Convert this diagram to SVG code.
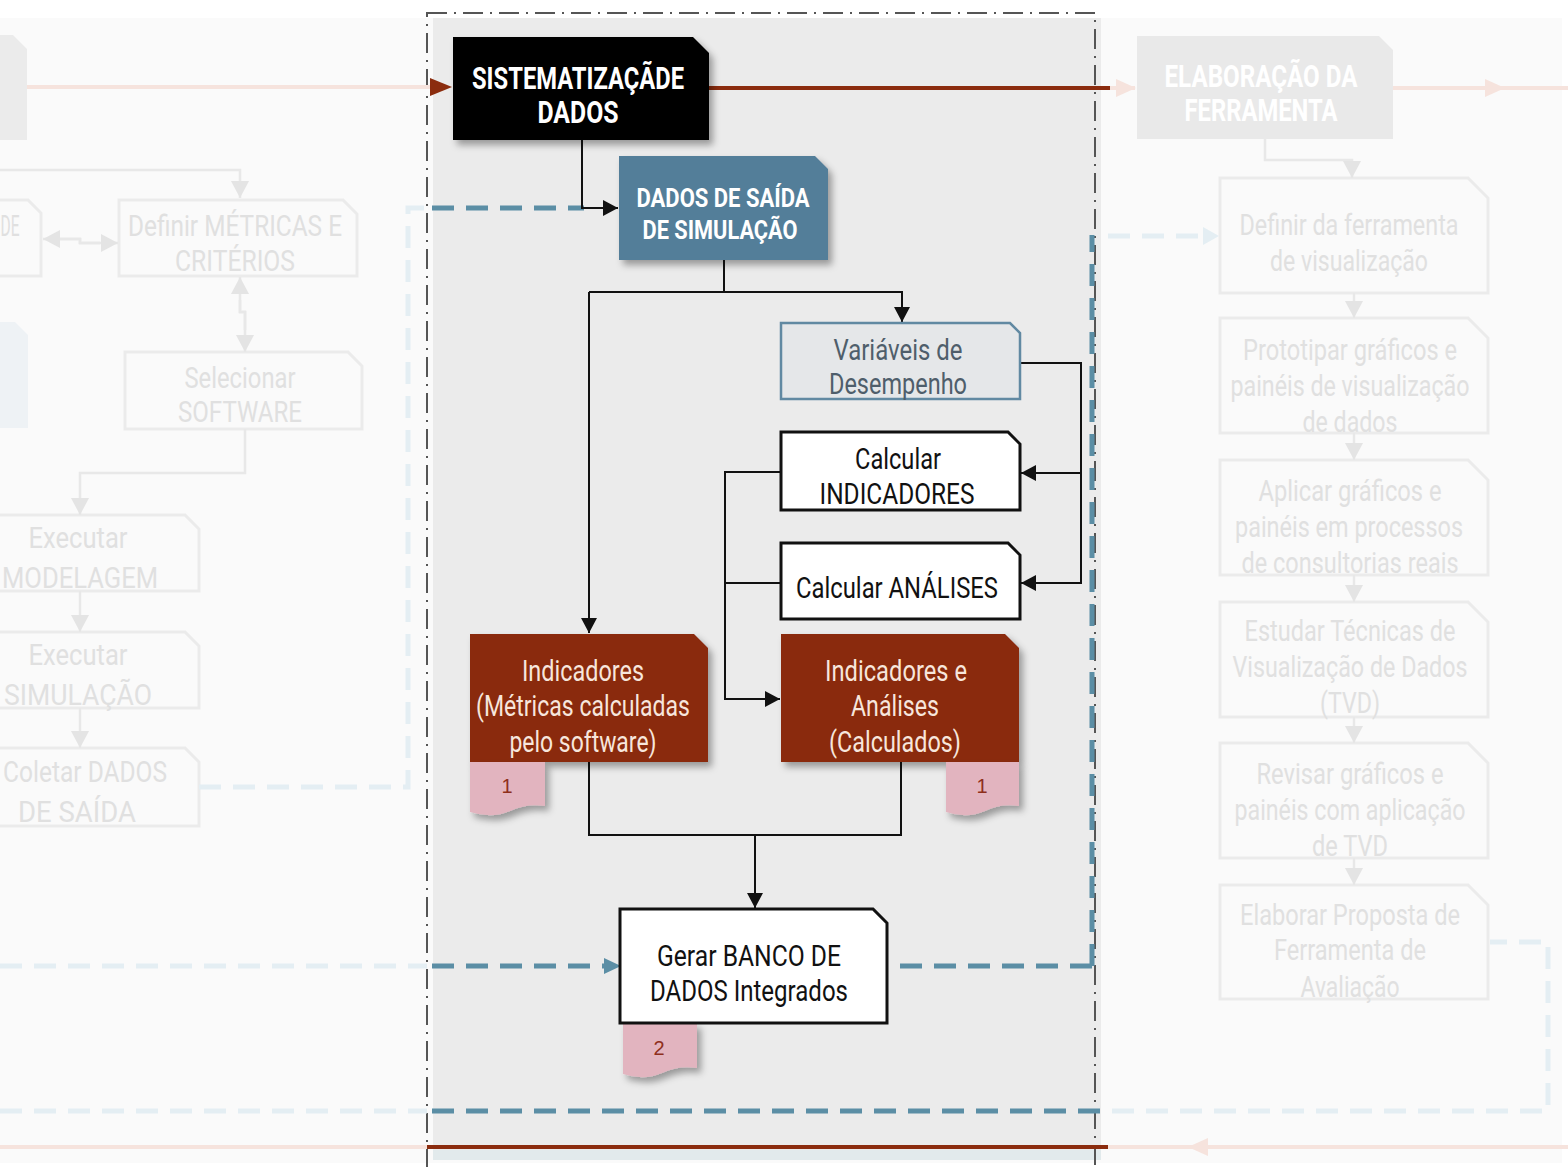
<svg xmlns="http://www.w3.org/2000/svg" width="1568" height="1167" viewBox="0 0 1568 1167">
  <defs>
    <style>
      .t { font-family: Roboto, "Liberation Sans", sans-serif; text-anchor: middle; }
      .lt { font-weight: 400; font-size: 29px; }
      .hd { font-weight: 700; font-size: 31px; fill: #ffffff; }
      .hd2 { font-weight: 700; font-size: 25px; fill: #ffffff; }
      .dark { fill: #111111; }
      .cream { fill: #f7e6dc; }
      .slate { fill: #4f5e6b; }
      .ghost { fill: #e0e0e0; }
      .tag { font-family: "Liberation Sans", Arial, sans-serif; font-size: 20px; fill: #8e2f1c; text-anchor: middle; }
      .fbox { fill: none; stroke: #ebebeb; stroke-width: 3; }
      .fline { fill: none; stroke: #e8e8e8; stroke-width: 2.5; }
      .conn { fill: none; stroke: #111111; stroke-width: 2; }
      .blue { fill: none; stroke: #5b8ea5; stroke-width: 5; stroke-dasharray: 22 12; }
      .fblue { fill: none; stroke: #e4eef3; stroke-width: 5; stroke-dasharray: 22 12; }
      .red { fill: none; stroke: #8b2c0e; stroke-width: 4; }
      .fred { fill: none; stroke: #f6e3dd; stroke-width: 4; }
      .pink { fill: #e2b4bf; }
    </style>
    <marker id="arr" markerUnits="userSpaceOnUse" markerWidth="16" markerHeight="16" refX="15" refY="8" orient="auto">
      <path d="M0,0 L15,8 L0,16 z" fill="#111111"/>
    </marker>
    <marker id="farr" markerUnits="userSpaceOnUse" markerWidth="18" markerHeight="18" refX="17" refY="9" orient="auto">
      <path d="M0,0 L17,9 L0,18 z" fill="#e4e4e4"/>
    </marker>
    <filter id="sh" x="-10%" y="-10%" width="130%" height="140%">
      <feDropShadow dx="4" dy="5" stdDeviation="3.5" flood-color="#000000" flood-opacity="0.35"/>
    </filter>
  </defs>

  <!-- page and panels -->
  <rect x="0" y="0" width="1568" height="1167" fill="#ffffff"/>
  <rect x="0" y="18" width="1562" height="1145" fill="#fafafa"/>
  <rect x="433" y="18" width="668" height="1142" fill="#ebebeb"/>
  <rect x="433" y="1150" width="668" height="10" fill="#e2eaec"/>

  <!-- faded left column -->
  <g id="left-header">
    <path d="M-10,35 H13 L27,49 V140 H-10 Z" fill="#ebebeb"/>
  </g>
  <g id="left-blue-node">
    <path d="M-10,322 H15 L28,335 V428 H-10 Z" fill="#eef2f5"/>
  </g>
  <g id="left-partial">
    <path class="fbox" d="M-10,200 H28 L41,213 V276 H-10"/>
    <text class="t lt ghost" x="10" y="236" textLength="19" lengthAdjust="spacingAndGlyphs">DE</text>
  </g>
  <g id="definir-metricas">
    <path class="fbox" d="M119,200 H343 L357,214 V276 H119 Z"/>
    <text class="t lt ghost" x="235" y="236" textLength="214" lengthAdjust="spacingAndGlyphs">Definir MÉTRICAS E</text>
    <text class="t lt ghost" x="235" y="271" textLength="120" lengthAdjust="spacingAndGlyphs">CRITÉRIOS</text>
  </g>
  <g id="selecionar-software">
    <path class="fbox" d="M125,352 H348 L362,366 V429 H125 Z"/>
    <text class="t lt ghost" x="240" y="388" textLength="111" lengthAdjust="spacingAndGlyphs">Selecionar</text>
    <text class="t lt ghost" x="240" y="422" textLength="124" lengthAdjust="spacingAndGlyphs">SOFTWARE</text>
  </g>
  <g id="executar-modelagem">
    <path class="fbox" d="M-10,515 H185 L199,529 V591 H-10"/>
    <text class="t lt ghost" x="78" y="548" textLength="99" lengthAdjust="spacingAndGlyphs">Executar</text>
    <text class="t lt ghost" x="80" y="588" textLength="156" lengthAdjust="spacingAndGlyphs">MODELAGEM</text>
  </g>
  <g id="executar-simulacao">
    <path class="fbox" d="M-10,632 H185 L199,646 V708 H-10"/>
    <text class="t lt ghost" x="78" y="665" textLength="99" lengthAdjust="spacingAndGlyphs">Executar</text>
    <text class="t lt ghost" x="78" y="705" textLength="148" lengthAdjust="spacingAndGlyphs">SIMULAÇÃO</text>
  </g>
  <g id="coletar-dados">
    <path class="fbox" d="M-10,748 H185 L199,762 V826 H-10"/>
    <text class="t lt ghost" x="85" y="782" textLength="164" lengthAdjust="spacingAndGlyphs">Coletar DADOS</text>
    <text class="t lt ghost" x="77" y="822" textLength="118" lengthAdjust="spacingAndGlyphs">DE SAÍDA</text>
  </g>

  <!-- faded right column -->
  <g id="elaboracao-ferramenta">
    <path d="M1137,36 H1379 L1393,50 V139 H1137 Z" fill="#e9e9e9"/>
    <text class="t hd" x="1261" y="87" textLength="193" lengthAdjust="spacingAndGlyphs">ELABORAÇÃO DA</text>
    <text class="t hd" x="1261" y="121" textLength="153" lengthAdjust="spacingAndGlyphs">FERRAMENTA</text>
  </g>
  <g id="definir-ferramenta">
    <path class="fbox" d="M1220,178 H1468 L1488,198 V293 H1220 Z"/>
    <text class="t lt ghost" x="1349" y="235" textLength="219" lengthAdjust="spacingAndGlyphs">Definir da ferramenta</text>
    <text class="t lt ghost" x="1349" y="271" textLength="158" lengthAdjust="spacingAndGlyphs">de visualização</text>
  </g>
  <g id="prototipar">
    <path class="fbox" d="M1220,318 H1468 L1488,338 V433 H1220 Z"/>
    <text class="t lt ghost" x="1350" y="360" textLength="214" lengthAdjust="spacingAndGlyphs">Prototipar gráficos e</text>
    <text class="t lt ghost" x="1350" y="396" textLength="239" lengthAdjust="spacingAndGlyphs">painéis de visualização</text>
    <text class="t lt ghost" x="1350" y="432" textLength="95" lengthAdjust="spacingAndGlyphs">de dados</text>
  </g>
  <g id="aplicar">
    <path class="fbox" d="M1220,460 H1468 L1488,480 V575 H1220 Z"/>
    <text class="t lt ghost" x="1350" y="501" textLength="183" lengthAdjust="spacingAndGlyphs">Aplicar gráficos e</text>
    <text class="t lt ghost" x="1349" y="537" textLength="228" lengthAdjust="spacingAndGlyphs">painéis em processos</text>
    <text class="t lt ghost" x="1350" y="573" textLength="217" lengthAdjust="spacingAndGlyphs">de consultorias reais</text>
  </g>
  <g id="estudar-tvd">
    <path class="fbox" d="M1220,602 H1468 L1488,622 V717 H1220 Z"/>
    <text class="t lt ghost" x="1350" y="641" textLength="211" lengthAdjust="spacingAndGlyphs">Estudar Técnicas de</text>
    <text class="t lt ghost" x="1350" y="677" textLength="235" lengthAdjust="spacingAndGlyphs">Visualização de Dados</text>
    <text class="t lt ghost" x="1350" y="713" textLength="60" lengthAdjust="spacingAndGlyphs">(TVD)</text>
  </g>
  <g id="revisar">
    <path class="fbox" d="M1220,743 H1468 L1488,763 V858 H1220 Z"/>
    <text class="t lt ghost" x="1350" y="784" textLength="187" lengthAdjust="spacingAndGlyphs">Revisar gráficos e</text>
    <text class="t lt ghost" x="1350" y="820" textLength="231" lengthAdjust="spacingAndGlyphs">painéis com aplicação</text>
    <text class="t lt ghost" x="1350" y="856" textLength="76" lengthAdjust="spacingAndGlyphs">de TVD</text>
  </g>
  <g id="elaborar-proposta">
    <path class="fbox" d="M1220,885 H1468 L1488,905 V999 H1220 Z"/>
    <text class="t lt ghost" x="1350" y="925" textLength="220" lengthAdjust="spacingAndGlyphs">Elaborar Proposta de</text>
    <text class="t lt ghost" x="1350" y="960" textLength="152" lengthAdjust="spacingAndGlyphs">Ferramenta de</text>
    <text class="t lt ghost" x="1350" y="997" textLength="99" lengthAdjust="spacingAndGlyphs">Avaliação</text>
  </g>

  <!-- stage frame -->
  <rect x="427" y="13" width="668" height="1170" fill="none" stroke="#555555" stroke-width="2" stroke-dasharray="20 7 2 7"/>

  <!-- connectors -->
  <g id="connectors">
    <!-- faded flow, left -->
    <path class="fline" d="M0,170 H240 V198" marker-end="url(#farr)"/>
    <path class="fline" d="M60,239 H80 V243 H118" marker-end="url(#farr)"/>
    <path class="fline" d="M100,243 H80 V239 H43" marker-end="url(#farr)"/>
    <path class="fline" d="M240,300 V312 H245 V352" marker-end="url(#farr)"/>
    <path class="fline" d="M245,330 V312 H240 V277" marker-end="url(#farr)"/>
    <path class="fline" d="M245,429 V473 H80 V515" marker-end="url(#farr)"/>
    <path class="fline" d="M80,591 V632" marker-end="url(#farr)"/>
    <path class="fline" d="M80,708 V748" marker-end="url(#farr)"/>
    <!-- faded flow, right -->
    <path class="fline" d="M1265,139 V160 H1352 V178" marker-end="url(#farr)"/>
    <path class="fline" d="M1354,293 V318" marker-end="url(#farr)"/>
    <path class="fline" d="M1354,433 V460" marker-end="url(#farr)"/>
    <path class="fline" d="M1354,575 V602" marker-end="url(#farr)"/>
    <path class="fline" d="M1354,717 V743" marker-end="url(#farr)"/>
    <path class="fline" d="M1354,858 V885" marker-end="url(#farr)"/>

    <!-- main red flow lines -->
    <path class="fred" d="M27,87 H430"/>
    <path d="M430,78 L452,87 L430,96 z" fill="#8b2c0e"/>
    <path class="red" d="M709,88 H1110"/>
    <path class="fred" d="M1110,88 H1135"/>
    <path d="M1116,79 L1136,88 L1116,97 z" fill="#f6e3dd"/>
    <path class="fred" d="M1393,88 H1568"/>
    <path d="M1485,79 L1505,88 L1485,97 z" fill="#f6e3dd"/>
    <path class="fred" d="M0,1147 H427"/>
    <path class="red" d="M427,1147 H1108"/>
    <path class="fred" d="M1108,1147 H1568"/>
    <path d="M1208,1138 L1188,1147 L1208,1156 z" fill="#f6e3dd"/>

    <!-- dashed data flows -->
    <path class="fblue" d="M199,787 H408 V208 H427"/>
    <path class="blue" d="M432,208 H584"/>
    <path class="fblue" d="M0,966 H427"/>
    <path class="blue" d="M432,966 H604"/>
    <path d="M604,958 L621,966 L604,974 z" fill="#5b8ea5"/>
    <path class="blue" d="M1092,966 H889"/>
    <path class="blue" d="M1092,966 V235"/>
    <path class="fblue" d="M1108,236 H1205"/>
    <path d="M1203,227 L1219,236 L1203,245 z" fill="#e4eef3"/>
    <path class="fblue" d="M0,1111 H427"/>
    <path class="blue" d="M432,1111 H1108"/>
    <path class="fblue" d="M1112,1111 H1548 V942 H1490"/>

    <!-- process connectors -->
    <path class="conn" d="M582,140 V208 H618" marker-end="url(#arr)"/>
    <path class="conn" d="M724,260 V292"/>
    <path class="conn" d="M589,292 H902 V322" marker-end="url(#arr)"/>
    <path class="conn" d="M589,292 V633" marker-end="url(#arr)"/>
    <path class="conn" d="M1020,363 H1081 V583 H1021" marker-end="url(#arr)"/>
    <path class="conn" d="M1081,473 H1021" marker-end="url(#arr)"/>
    <path class="conn" d="M781,472 H725 V699 H780" marker-end="url(#arr)"/>
    <path class="conn" d="M781,583 H725"/>
    <path class="conn" d="M589,762 V835 H901 V762"/>
    <path class="conn" d="M755,835 V908" marker-end="url(#arr)"/>
  </g>

  <!-- central stage nodes -->
  <g id="sistematizacao">
    <path d="M453,37 H693 L709,53 V140 H453 Z" fill="#000000" filter="url(#sh)"/>
    <text class="t hd" x="578" y="89" textLength="212" lengthAdjust="spacingAndGlyphs">SISTEMATIZAÇÃDE</text>
    <text class="t hd" x="578" y="123" textLength="81" lengthAdjust="spacingAndGlyphs">DADOS</text>
  </g>
  <g id="dados-saida">
    <path d="M619,156 H815 L828,169 V260 H619 Z" fill="#527e99" filter="url(#sh)"/>
    <text class="t hd2" x="723" y="207" textLength="173" lengthAdjust="spacingAndGlyphs">DADOS DE SAÍDA</text>
    <text class="t hd2" x="720" y="239" textLength="155" lengthAdjust="spacingAndGlyphs">DE SIMULAÇÃO</text>
  </g>
  <g id="variaveis">
    <path d="M781,323 H1010 L1020,333 V399 H781 Z" fill="#e5e7e9" stroke="#6189a2" stroke-width="2.5"/>
    <text class="t lt slate" x="898" y="360" textLength="129" lengthAdjust="spacingAndGlyphs">Variáveis de</text>
    <text class="t lt slate" x="898" y="394" textLength="138" lengthAdjust="spacingAndGlyphs">Desempenho</text>
  </g>
  <g id="calcular-indicadores">
    <path d="M781,432 H1008 L1020,444 V510 H781 Z" fill="#ffffff" stroke="#111111" stroke-width="3"/>
    <text class="t lt dark" x="898" y="469" textLength="86" lengthAdjust="spacingAndGlyphs">Calcular</text>
    <text class="t lt dark" x="897" y="504" textLength="155" lengthAdjust="spacingAndGlyphs">INDICADORES</text>
  </g>
  <g id="calcular-analises">
    <path d="M781,543 H1008 L1020,555 V619 H781 Z" fill="#ffffff" stroke="#111111" stroke-width="3"/>
    <text class="t lt dark" x="897" y="598" textLength="202" lengthAdjust="spacingAndGlyphs">Calcular ANÁLISES</text>
  </g>
  <g id="indicadores-software">
    <path d="M470,634 H694 L708,648 V762 H470 Z" fill="#8a2c0f" filter="url(#sh)"/>
    <path class="pink" d="M470,762 H545 V806 Q527,803 510,811 Q492,819 470,812 Z" filter="url(#sh)"/>
    <text class="t lt cream" x="583" y="681" textLength="122" lengthAdjust="spacingAndGlyphs">Indicadores</text>
    <text class="t lt cream" x="583" y="716" textLength="214" lengthAdjust="spacingAndGlyphs">(Métricas calculadas</text>
    <text class="t lt cream" x="583" y="752" textLength="147" lengthAdjust="spacingAndGlyphs">pelo software)</text>
    <text class="tag" x="507" y="793">1</text>
  </g>
  <g id="indicadores-analises">
    <path d="M781,634 H1005 L1019,648 V762 H781 Z" fill="#8a2c0f" filter="url(#sh)"/>
    <path class="pink" d="M946,762 H1019 V806 Q1001,803 985,811 Q967,819 946,812 Z" filter="url(#sh)"/>
    <text class="t lt cream" x="896" y="681" textLength="142" lengthAdjust="spacingAndGlyphs">Indicadores e</text>
    <text class="t lt cream" x="895" y="716" textLength="88" lengthAdjust="spacingAndGlyphs">Análises</text>
    <text class="t lt cream" x="895" y="752" textLength="132" lengthAdjust="spacingAndGlyphs">(Calculados)</text>
    <text class="tag" x="982" y="793">1</text>
  </g>
  <g id="gerar-banco">
    <path class="pink" d="M623,1023 H697 V1068 Q679,1065 662,1073 Q644,1081 623,1074 Z" filter="url(#sh)"/>
    <path d="M620,909 H873 L887,923 V1023 H620 Z" fill="#ffffff" stroke="#111111" stroke-width="3"/>
    <text class="t lt dark" x="749" y="966" textLength="184" lengthAdjust="spacingAndGlyphs">Gerar BANCO DE</text>
    <text class="t lt dark" x="749" y="1001" textLength="198" lengthAdjust="spacingAndGlyphs">DADOS Integrados</text>
    <text class="tag" x="659" y="1055">2</text>
  </g>
</svg>
